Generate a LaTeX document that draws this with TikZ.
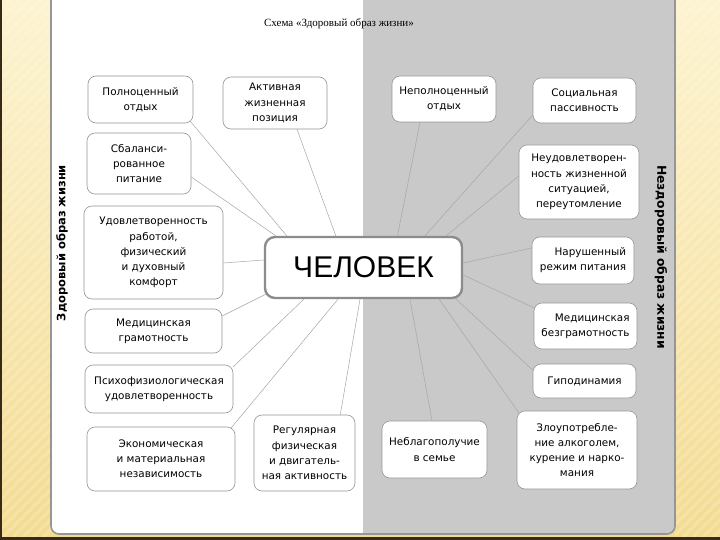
\documentclass[tikz,border=0pt]{standalone}
\usepackage{fontspec}
\newfontfamily\boxfont{DejaVu Sans}
\newfontfamily\corefont{Liberation Sans}
\newfontfamily\titlefont{Liberation Serif}
\usetikzlibrary{calc}
\definecolor{paper}{RGB}{243,219,146}
\definecolor{paperlight}{RGB}{253,243,207}
\definecolor{panelgray}{RGB}{201,201,201}
\definecolor{framegray}{RGB}{150,150,150}
\definecolor{edgedark}{RGB}{55,42,22}

\begin{document}
\begin{tikzpicture}[x=1pt, y=-1pt,
  factor/.style={draw=framegray, fill=white, rounded corners=8pt,
                 line width=0.6pt, align=center, inner sep=2pt,
                 font=\boxfont\fontsize{10.4}{15.2}\selectfont},
  core/.style={draw=gray!90, fill=white, rounded corners=10pt,
               line width=2.4pt, inner sep=2pt,
               font=\corefont\fontsize{30}{32}\selectfont},
  link/.style={draw=gray!70, line width=0.5pt},
  side/.style={font=\boxfont\bfseries\fontsize{11.5}{13}\selectfont},
]
\useasboundingbox (0,0) rectangle (720,540);

% background strips
\shade[top color=paperlight, bottom color=paper] (0,0) rectangle (720,537);
\begin{scope}
  \clip (0,0) rectangle (51,537) (675,0) rectangle (720,537);
  \foreach \i in {-540,-530,...,720}
    \draw[white, opacity=0.2, line width=3pt] (\i,540) -- (\i+540,0);
\end{scope}
\fill[edgedark] (0,537) rectangle (720,540);
\fill[edgedark] (0,0) rectangle (1.5,537);

% panel
\fill[white] (51,-12) [rounded corners=8pt] -- (51,534) -- (675,534)
  [sharp corners] -- (675,-12) -- cycle;
\begin{scope}
  \clip (51,-12) [rounded corners=8pt] -- (51,534) -- (675,534)
    [sharp corners] -- (675,-12) -- cycle;
  \fill[panelgray] (363,-12) rectangle (675,540);
\end{scope}
\draw[framegray, line width=1.6pt] (51,-12) [rounded corners=8pt] -- (51,534)
  -- (675,534) -- (675,-12);

\node[font=\titlefont\fontsize{11}{13}\selectfont] (title) at (339,24)
  {Схема «Здоровый образ жизни»};
\node[side, rotate=90] (healthy) at (62,243) {Здоровый образ жизни};
\node[side, font=\boxfont\bfseries\fontsize{12.3}{14}\selectfont, rotate=-90]
  (unhealthy) at (661,257) {Нездоровый образ жизни};

% factors
\node[core, minimum width=197, minimum height=61] (man) at (363.5,267.5) {ЧЕЛОВЕК};

\node[factor, minimum width=105, minimum height=47] (full) at (140.5,99.5)
  {Полноценный\\отдых};
\node[factor, minimum width=104, minimum height=52] (act) at (275,103)
  {Активная\\жизненная\\позиция};
\node[factor, minimum width=104, minimum height=46] (nonfull) at (444,99)
  {Неполноценный\\отдых};
\node[factor, minimum width=103, minimum height=45] (social) at (584.5,100.5)
  {Социальная\\пассивность};
\node[factor, minimum width=104, minimum height=61] (diet) at (139,163.5)
  {Сбаланси-\\рованное\\питание};
\node[factor, minimum width=139, minimum height=93] (work) at (153.5,252.5)
  {Удовлетворенность\\работой,\\физический\\и духовный\\комфорт};
\node[factor, minimum width=120, minimum height=74] (unsat) at (579,182)
  {Неудовлетворен-\\ность жизненной\\ситуацией,\\переутомление};
\node[factor, minimum width=102, minimum height=47, align=right] (broken) at (583,260.5)
  {Нарушенный\\режим питания};
\node[factor, minimum width=137, minimum height=44] (medlit) at (153.5,331)
  {Медицинская\\грамотность};
\node[factor, minimum width=103, minimum height=46, align=right] (medun) at (585.5,326)
  {Медицинская\\безграмотность};
\node[factor, minimum width=148, minimum height=48] (psych) at (159,389)
  {Психофизиологическая\\удовлетворенность};
\node[factor, minimum width=103, minimum height=34] (hypo) at (584.5,381)
  {Гиподинамия};
\node[factor, minimum width=148, minimum height=64] (econ) at (161,459)
  {Экономическая\\и материальная\\независимость};
\node[factor, minimum width=101, minimum height=76] (sport) at (304.5,453)
  {Регулярная\\физическая\\и двигатель-\\ная активность};
\node[factor, minimum width=105, minimum height=57] (family) at (434.5,449.5)
  {Неблагополучие\\в семье};
\node[factor, minimum width=120, minimum height=78] (abuse) at (577,450)
  {Злоупотребле-\\ние алкоголем,\\курение и нарко-\\мания};

% links to the centre
\draw[link] ($(full.south east)+(-3,-2)$) -- ($(man.north west)+(23,0)$);
\draw[link] ($(act.south)+(22,0)$) -- ($(man.north west)+(72,0)$);
\draw[link] ($(nonfull.south)+(-24,0)$) -- ($(man.north)+(34,0)$);
\draw[link] ($(social.west)+(0,14.5)$) -- ($(man.north)+(61.5,0)$);
\draw[link] ($(unsat.west)+(0,-6)$) -- ($(man.north east)+(-17,0)$);
\draw[link] ($(broken.west)+(0,-12.5)$) -- ($(man.east)+(0,-4.5)$);
\draw[link] ($(medun.north west)+(0,5)$) -- ($(man.east)+(0,7.5)$);
\draw[link] ($(hypo.west)+(0,-11)$) -- ($(man.south east)+(-7,0)$);
\draw[link] ($(abuse.north west)+(2,2)$) -- ($(man.south east)+(-24,0)$);
\draw[link] ($(family.north)+(-2.5,0)$) -- ($(man.south)+(46.5,0)$);
\draw[link] ($(sport.north east)+(-15,0)$) -- ($(man.south)+(-3.5,0)$);
\draw[link] ($(econ.north east)+(-4,1)$) -- ($(man.south)+(-25.5,0)$);
\draw[link] ($(psych.north east)+(0,2)$) -- ($(man.south west)+(40,0)$);
\draw[link] ($(medlit.east)+(0,-15)$) -- ($(man.south west)+(2,-5)$);
\draw[link] ($(work.east)+(0,10.5)$) -- ($(man.west)+(0,-7.5)$);
\draw[link] ($(diet.east)+(0,13.5)$) -- ($(man.north west)+(12,0)$);
\end{tikzpicture}
\end{document}
